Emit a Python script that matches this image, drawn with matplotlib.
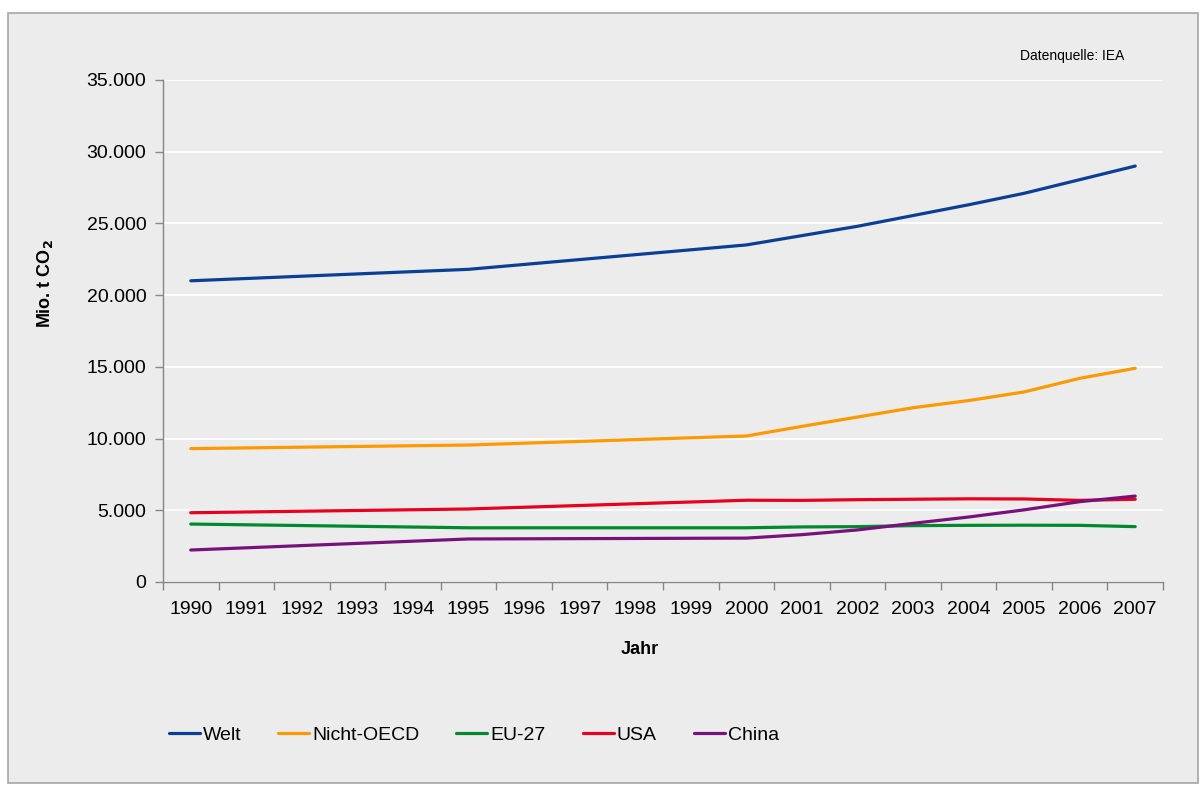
import matplotlib.pyplot as plt
from matplotlib.patches import Rectangle
from matplotlib.ticker import FuncFormatter, FixedLocator

plt.rcParams['font.family'] = ['Liberation Sans', 'DejaVu Sans']

categories = list(range(1990, 2008))
data_years = [1990, 1995, 2000, 2001, 2002, 2003, 2004, 2005, 2006, 2007]

welt = [21000, 21800, 23500, 24150, 24800, 25550, 26300, 27100, 28050, 29000]
nicht_oecd = [9300, 9550, 10180, 10850, 11500, 12150, 12650, 13250, 14200, 14900]
eu27 = [4040, 3780, 3780, 3840, 3860, 3930, 3950, 3960, 3950, 3860]
usa = [4830, 5090, 5700, 5690, 5740, 5770, 5800, 5790, 5690, 5770]
china = [2230, 3000, 3060, 3300, 3630, 4090, 4530, 5030, 5600, 5990]

series = [
    ('Welt', welt, '#0a3f96'),
    ('Nicht-OECD', nicht_oecd, '#ff9900'),
    ('EU-27', eu27, '#00892f'),
    ('USA', usa, '#e8001e'),
    ('China', china, '#77127b'),
]

bg = '#ececec'
W, H = 1203, 787
fig = plt.figure(figsize=(W / 100, H / 100), dpi=100, facecolor='white')
fig.patches.append(Rectangle((8 / W, 1 - 783 / H), 1190 / W, 770 / H,
                             transform=fig.transFigure, facecolor=bg,
                             edgecolor='#a6a6a6', lw=1.2, zorder=-5))

ax = fig.add_axes([163 / W, 1 - 582 / H, (1163 - 163) / W, (582 - 80) / H])
ax.set_facecolor(bg)

x = [categories.index(y) for y in data_years]
for name, vals, col in series:
    ax.plot(x, vals, color=col, lw=2.3, label=name, solid_capstyle='round')

ax.set_xlim(-0.5, len(categories) - 0.5)
ax.set_ylim(0, 35000)
ax.set_yticks(range(0, 35001, 5000))
ax.yaxis.set_major_formatter(FuncFormatter(lambda v, p: f'{int(v):,}'.replace(',', '.')))
ax.grid(axis='y', color='white', lw=1.2)
ax.set_axisbelow(True)

ax.xaxis.set_major_locator(FixedLocator([i - 0.5 for i in range(len(categories) + 1)]))
ax.xaxis.set_minor_locator(FixedLocator(range(len(categories))))
ax.set_xticklabels([])
ax.set_xticklabels([str(c) for c in categories], minor=True)
ax.tick_params(axis='x', which='major', length=6, color='#868686', width=1)
ax.tick_params(axis='x', which='minor', length=0, pad=14, labelsize=14)
ax.tick_params(axis='y', length=6, color='#868686', width=1, labelsize=14, pad=6)

for s in ['top', 'right']:
    ax.spines[s].set_visible(False)
for s in ['left', 'bottom']:
    ax.spines[s].set_color('#868686')
    ax.spines[s].set_linewidth(1)

fig.text(45 / W, 1 - 284 / H, 'Mio. t CO$_{\\mathbf{2}}$', rotation=90, ha='center', va='center',
         fontsize=13, fontweight='bold')
fig.text(640 / W, 1 - 649 / H, 'Jahr', ha='center', va='center', fontsize=13, fontweight='bold')
fig.text(1072 / W, 1 - 56 / H, 'Datenquelle: IEA', ha='center', va='center', fontsize=10)

fig.legend(loc='center left', bbox_to_anchor=(151 / W, 1 - 735 / H), ncol=5, frameon=False,
           fontsize=14, handlelength=1.6, handletextpad=0.15, columnspacing=1.9)

fig.savefig('out.png', dpi=100, facecolor='white')
